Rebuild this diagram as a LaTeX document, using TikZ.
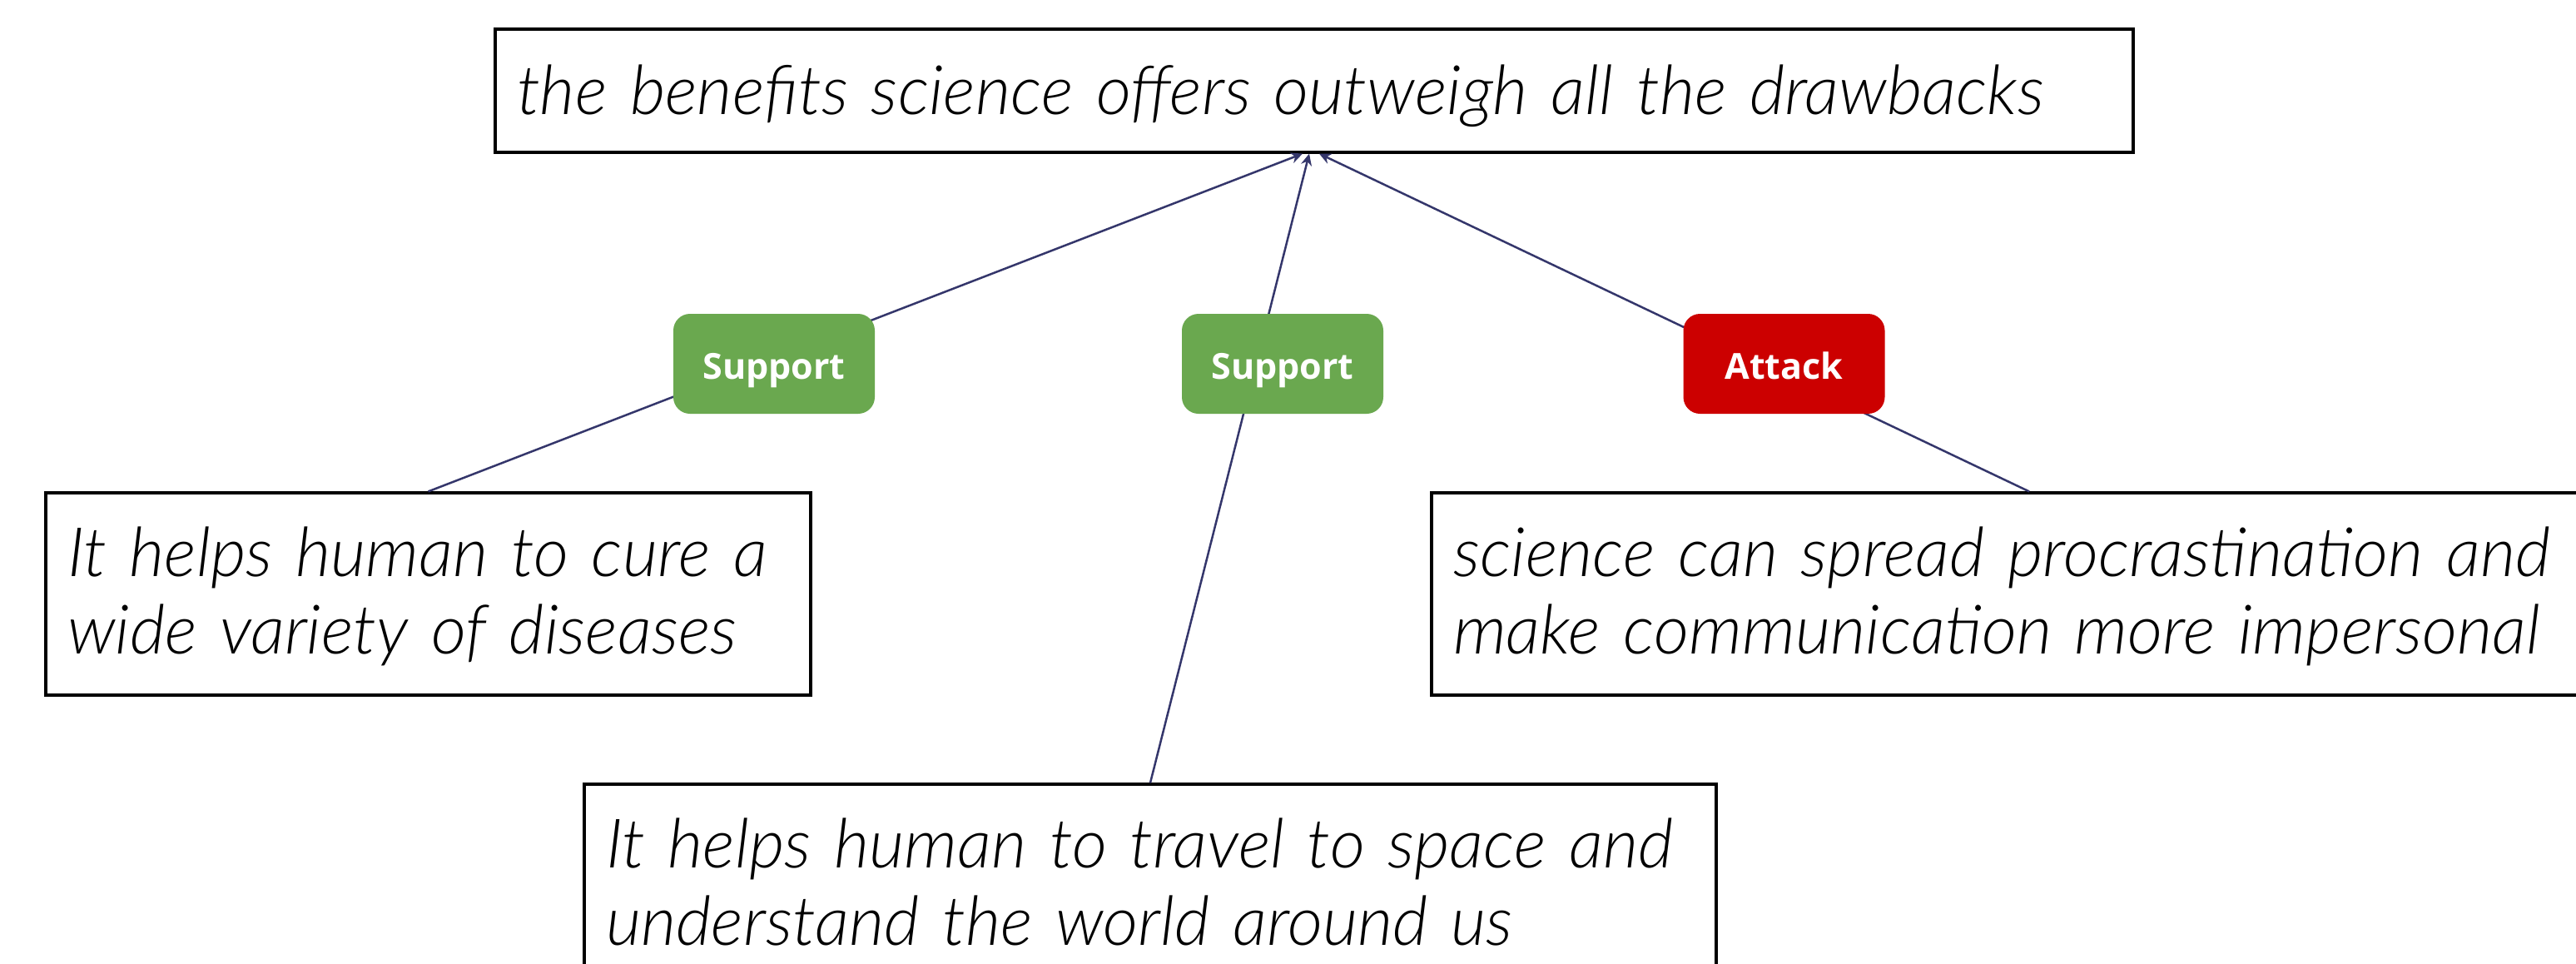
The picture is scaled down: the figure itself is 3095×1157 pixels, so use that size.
\documentclass[tikz,border=0pt]{standalone}
\usepackage{fontspec}
\setmainfont{Lato}[UprightFont=* Light, ItalicFont=* Light Italic]
\newfontfamily\tagfont{Open Sans}
\usetikzlibrary{arrows.meta}
\definecolor{supportgreen}{HTML}{6AA84F}
\definecolor{attackred}{HTML}{CC0000}
\definecolor{linknavy}{HTML}{34366B}

\begin{document}
\begin{tikzpicture}[x=1pt,y=-1pt,
  claim/.style={draw=black, line width=3.2pt, rectangle, inner xsep=26pt, inner ysep=0pt,
    align=left, font=\fontsize{82}{93}\selectfont\itshape},
  oneline/.style={text height=62pt, text depth=6pt},
  twoline/.style={text height=60pt, text depth=103pt},
  tag/.style={rounded corners=20pt, minimum width=242pt, minimum height=120pt, inner sep=0pt,
    text height=36pt, text depth=0pt,
    text=white, font=\tagfont\bfseries\fontsize{43}{52}\selectfont},
  link/.style={draw=linknavy, line width=2.5pt, -{Stealth[length=14pt,width=13pt]}}]

\useasboundingbox[fill=white] (0,0) rectangle (3095,1157);

% claims
\node[claim, oneline, text width=1916pt, minimum height=148pt] (main) at (1579,109)
  {the benefits science offers outweigh all the drawbacks};
\node[claim, twoline, text width=867pt, minimum height=243pt] (cl) at (514.5,713.5)
  {It helps human to cure a\\wide variety of diseases};
\node[claim, twoline, text width=1384pt, minimum height=243pt] (cr) at (2438,713.5)
  {science can spread procrastination and\\make communication more impersonal};
\node[claim, twoline, text width=1308pt, minimum height=243pt] (cb) at (1382,1063.5)
  {It helps human to travel to space and\\understand the world around us};

% relations
\draw[link] (cl.north) -- ([xshift=-14pt]main.south);
\draw[link] (cb.north) -- ([xshift=-6pt]main.south);
\draw[link] (cr.north) -- ([xshift=6pt]main.south);

% relation labels
\node[tag, fill=supportgreen] (s1) at (930,437) {Support};
\node[tag, fill=supportgreen] (s2) at (1541,437) {Support};
\node[tag, fill=attackred] (a1) at (2143.5,437) {Attack};
\end{tikzpicture}
\end{document}
